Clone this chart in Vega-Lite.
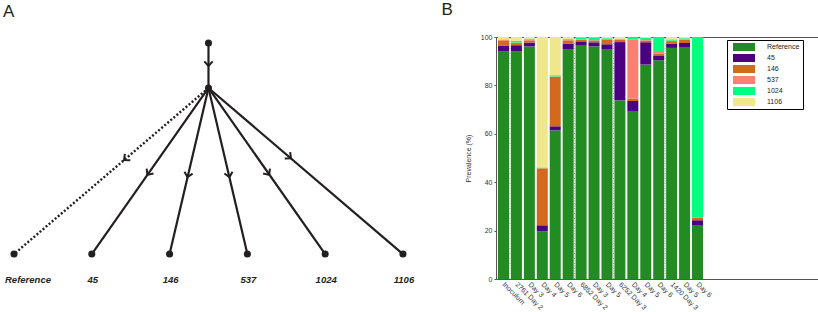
{
  "$schema": "https://vega.github.io/schema/vega-lite/v6.json",
  "padding": 0,
  "background": "white",
  "spacing": 20,
  "config": {"view": {"stroke": null}, "font": "Liberation Sans"},
  "hconcat": [
    {
      "width": 420,
      "height": 242,
      "layer": [
        {
          "data": {"values": [
            {"to": "mid", "pos": 2.5, "depth": 0, "pos2": 2.5, "depth2": 1, "kind": "observed"},
            {"to": "45", "pos": 2.5, "depth": 1, "pos2": 1, "depth2": 4.69, "kind": "observed"},
            {"to": "146", "pos": 2.5, "depth": 1, "pos2": 2, "depth2": 4.69, "kind": "observed"},
            {"to": "537", "pos": 2.5, "depth": 1, "pos2": 3, "depth2": 4.69, "kind": "observed"},
            {"to": "1024", "pos": 2.5, "depth": 1, "pos2": 4, "depth2": 4.69, "kind": "observed"},
            {"to": "1106", "pos": 2.5, "depth": 1, "pos2": 5, "depth2": 4.69, "kind": "observed"}
          ]},
          "mark": {"type": "rule", "color": "#231f20", "strokeWidth": 2.2},
          "encoding": {
            "x": {"field": "pos", "type": "quantitative", "scale": {"domain": [-0.18, 5.219], "nice": false, "zero": false}, "axis": null},
            "y": {"field": "depth", "type": "quantitative", "scale": {"domain": [-0.133, 5.244], "reverse": true, "nice": false, "zero": false}, "axis": null},
            "x2": {"field": "pos2"},
            "y2": {"field": "depth2"}
          }
        },
        {
          "data": {"values": [
            {"to": "Reference", "pos": 2.5, "depth": 1, "pos2": 0, "depth2": 4.69, "kind": "putative"}
          ]},
          "mark": {"type": "rule", "color": "#231f20", "strokeWidth": 2.4, "strokeDash": [2, 2]},
          "encoding": {
            "x": {"field": "pos", "type": "quantitative"},
            "y": {"field": "depth", "type": "quantitative"},
            "x2": {"field": "pos2"},
            "y2": {"field": "depth2"}
          }
        },
        {
          "data": {"values": [
            {"edge": "mid", "pos": 2.5, "depth": 0.51, "heading": 0},
            {"edge": "Reference", "pos": 1.415, "depth": 2.6, "heading": 49.6},
            {"edge": "45", "pos": 1.715, "depth": 2.93, "heading": 35.2},
            {"edge": "146", "pos": 2.23, "depth": 2.98, "heading": 13.2},
            {"edge": "537", "pos": 2.77, "depth": 2.98, "heading": -12.9},
            {"edge": "1024", "pos": 3.28, "depth": 2.93, "heading": -34.9},
            {"edge": "1106", "pos": 3.56, "depth": 2.56, "heading": -49.5}
          ]},
          "mark": {"type": "point", "shape": "M-1,-1.1L0,0L1,-1.1", "filled": false, "stroke": "#231f20", "strokeWidth": 2, "size": 70, "opacity": 1},
          "encoding": {
            "x": {"field": "pos", "type": "quantitative"},
            "y": {"field": "depth", "type": "quantitative"},
            "angle": {"field": "heading", "type": "quantitative", "scale": null}
          }
        },
        {
          "data": {"name": "nodes", "values": [
            {"node": "root", "pos": 2.5, "depth": 0},
            {"node": "mid", "pos": 2.5, "depth": 1},
            {"node": "Reference", "pos": 0, "depth": 4.69},
            {"node": "45", "pos": 1, "depth": 4.69},
            {"node": "146", "pos": 2, "depth": 4.69},
            {"node": "537", "pos": 3, "depth": 4.69},
            {"node": "1024", "pos": 4, "depth": 4.69},
            {"node": "1106", "pos": 5, "depth": 4.69}
          ]},
          "layer": [
            {
              "mark": {"type": "point", "shape": "circle", "filled": true, "color": "#231f20", "size": 50, "opacity": 1},
              "encoding": {
                "x": {"field": "pos", "type": "quantitative"},
                "y": {"field": "depth", "type": "quantitative"}
              }
            },
            {
              "transform": [{"filter": "datum.depth > 2 && datum.node != 'Reference'"}],
              "mark": {"type": "text", "fontSize": 9.5, "fontWeight": "bold", "fontStyle": "italic", "color": "#231f20", "align": "center", "baseline": "middle", "dy": 26, "dx": 1},
              "encoding": {
                "x": {"field": "pos", "type": "quantitative"},
                "y": {"field": "depth", "type": "quantitative"},
                "text": {"field": "node"}
              }
            },
            {
              "transform": [{"filter": "datum.node == 'Reference'"}],
              "mark": {"type": "text", "fontSize": 9.5, "fontWeight": "bold", "fontStyle": "italic", "color": "#231f20", "align": "left", "baseline": "middle", "dy": 26, "dx": -9},
              "encoding": {
                "x": {"field": "pos", "type": "quantitative"},
                "y": {"field": "depth", "type": "quantitative"},
                "text": {"field": "node"}
              }
            }
          ]
        },
        {
          "data": {"values": [{"panel": "A"}]},
          "mark": {"type": "text", "fontSize": 17, "align": "left", "baseline": "top", "color": "#231f20"},
          "encoding": {
            "x": {"datum": -0.141},
            "y": {"datum": -0.867},
            "text": {"field": "panel"}
          }
        }
      ]
    },
    {
      "width": 323,
      "height": 242,
      "view": {"stroke": "#555", "strokeWidth": 1},
      "layer": [
        {
          "data": {"values": [
            {"sample": "Inoculum", "Reference": 94.0, "45": 2.3, "146": 2.3, "537": 0.2, "1024": 0.2, "1106": 1.0},
            {"sample": "2761 Day 2", "Reference": 94.1, "45": 2.5, "146": 0.9, "537": 0.2, "1024": 0.7, "1106": 1.6},
            {"sample": "2761 Day 3", "Reference": 96.1, "45": 1.6, "146": 0.9, "537": 0.3, "1024": 0.4, "1106": 0.7},
            {"sample": "2761 Day 4", "Reference": 19.7, "45": 2.5, "146": 23.5, "537": 0.1, "1024": 0.3, "1106": 53.9},
            {"sample": "2761 Day 5", "Reference": 61.4, "45": 1.7, "146": 20.4, "537": 0.2, "1024": 0.5, "1106": 15.8},
            {"sample": "2761 Day 6", "Reference": 94.9, "45": 2.4, "146": 1.3, "537": 0.3, "1024": 0.3, "1106": 0.8},
            {"sample": "6852 Day 2", "Reference": 96.7, "45": 1.5, "146": 0.6, "537": 0.1, "1024": 0.8, "1106": 0.3},
            {"sample": "6852 Day 3", "Reference": 96.1, "45": 1.7, "146": 0.8, "537": 0.1, "1024": 1.0, "1106": 0.3},
            {"sample": "6852 Day 5", "Reference": 94.8, "45": 2.2, "146": 2.0, "537": 0.2, "1024": 0.3, "1106": 0.5},
            {"sample": "6252 Day 3", "Reference": 73.8, "45": 24.1, "146": 0.9, "537": 0.2, "1024": 0.3, "1106": 0.7},
            {"sample": "6252 Day 4", "Reference": 69.4, "45": 4.2, "146": 0.9, "537": 24.5, "1024": 1.0, "1106": 0},
            {"sample": "6252 Day 5", "Reference": 88.6, "45": 9.2, "146": 0.8, "537": 0.2, "1024": 0.8, "1106": 0.4},
            {"sample": "6252 Day 6", "Reference": 90.4, "45": 2.0, "146": 0.7, "537": 0.7, "1024": 6.2, "1106": 0},
            {"sample": "1420 Day 3", "Reference": 95.5, "45": 1.8, "146": 1.0, "537": 0.2, "1024": 0.5, "1106": 1.0},
            {"sample": "1420 Day 5", "Reference": 95.9, "45": 1.6, "146": 1.3, "537": 0.2, "1024": 0.5, "1106": 0.5},
            {"sample": "1420 Day 6", "Reference": 22.3, "45": 2.0, "146": 1.1, "537": 0.1, "1024": 74.5, "1106": 0}
          ]},
          "transform": [
            {"fold": ["Reference", "45", "146", "537", "1024", "1106"], "as": ["strain", "pct"]},
            {"calculate": "indexof(['Reference','45','146','537','1024','1106'], datum.strain)", "as": "rank"}
          ],
          "mark": {"type": "bar"},
          "encoding": {
            "x": {
              "field": "sample", "type": "nominal", "sort": null,
              "scale": {
                "domain": ["Inoculum", "2761 Day 2", "2761 Day 3", "2761 Day 4", "2761 Day 5", "2761 Day 6", "6852 Day 2", "6852 Day 3", "6852 Day 5", "6252 Day 3", "6252 Day 4", "6252 Day 5", "6252 Day 6", "1420 Day 3", "1420 Day 5", "1420 Day 6"],
                "range": [2, 207], "paddingInner": 0.15, "paddingOuter": 0
              },
              "axis": {
                "title": null, "labelAngle": 45, "labelAlign": "left", "labelBaseline": "middle",
                "labelFontSize": 7, "labelColor": "#333", "ticks": false, "domain": false, "labelPadding": 4,
                "labelExpr": "indexof(['Inoculum','2761 Day 2','6852 Day 2','6252 Day 3','1420 Day 3'], datum.value) >= 0 ? datum.value : slice(datum.value, 5)"
              }
            },
            "y": {
              "field": "pct", "type": "quantitative", "stack": "zero",
              "scale": {"domain": [0, 100], "nice": false},
              "axis": {
                "title": "Prevalence (%)", "titleFontSize": 7, "titleFontWeight": "normal", "titleColor": "#333",
                "titlePadding": 9, "values": [0, 10, 20, 30, 40, 50, 60, 70, 80, 90, 100],
                "labelFontSize": 7, "labelColor": "#333", "tickSize": 2, "tickColor": "#555", "labelPadding": 2,
                "domain": false, "grid": false
              }
            },
            "color": {
              "field": "strain", "type": "nominal",
              "scale": {
                "domain": ["Reference", "45", "146", "537", "1024", "1106"],
                "range": ["#228B22", "#4B0082", "#D2691E", "#FA8072", "#00FF7F", "#F0E68C"]
              },
              "legend": {
                "title": null, "orient": "none", "legendX": 727, "legendY": 3,
                "strokeColor": "#000", "fillColor": "#fff", "padding": 3,
                "labelFontSize": 7, "labelColor": "#222", "labelOffset": 19, "symbolOffset": 10,
                "symbolType": "M-2.75,-1H2.75V1H-2.75Z", "symbolSize": 64, "symbolStrokeWidth": 0,
                "rowPadding": 3, "cornerRadius": 0
              }
            },
            "order": {"field": "rank", "type": "quantitative"}
          }
        },
        {
          "data": {"values": [
            {"s": "2761 Day 2"}, {"s": "6852 Day 2"}, {"s": "6252 Day 3"}, {"s": "1420 Day 3"}
          ]},
          "mark": {"type": "rule", "color": "#999", "strokeWidth": 1, "strokeDash": [1, 1.5], "xOffset": -1},
          "encoding": {
            "x": {"field": "s", "type": "nominal", "bandPosition": 0},
            "y": {"datum": 0},
            "y2": {"datum": 100}
          }
        },
        {
          "data": {"values": [{"panel": "B"}]},
          "mark": {"type": "text", "fontSize": 17, "align": "left", "baseline": "top", "dx": -62, "color": "#231f20"},
          "encoding": {
            "x": {"datum": "Inoculum"},
            "y": {"datum": 114.5},
            "text": {"field": "panel"}
          }
        }
      ]
    }
  ]
}
